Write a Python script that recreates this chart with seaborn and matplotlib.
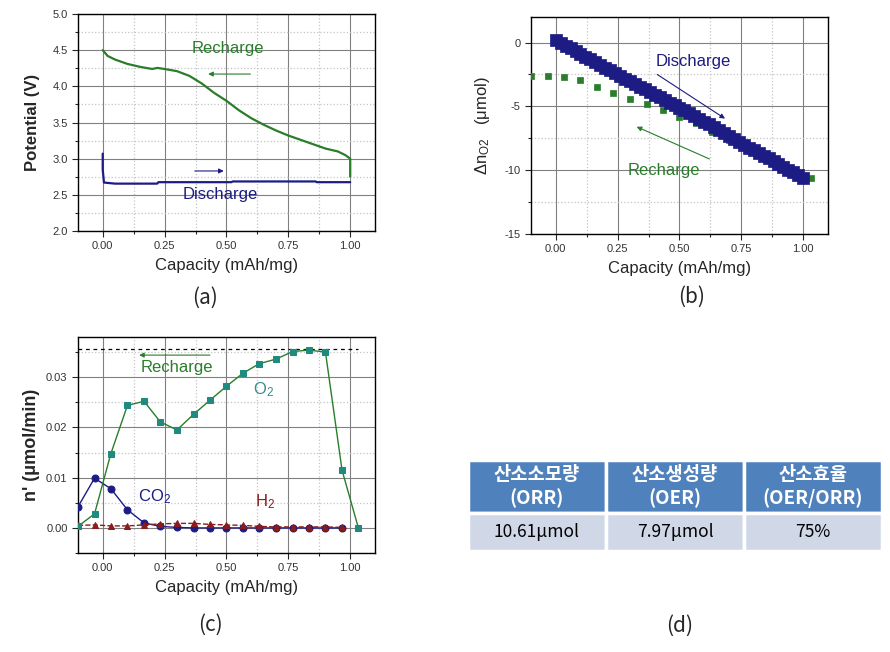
import numpy as np
import matplotlib
matplotlib.use('Agg')
import matplotlib.pyplot as plt
from matplotlib.ticker import MultipleLocator, FormatStrFormatter
import seaborn as sns

# ---- (a) potential profile
chg_cap = [0.0, 0.02, 0.05, 0.10, 0.15, 0.20, 0.22, 0.25, 0.30, 0.35, 0.40, 0.45, 0.50,
           0.55, 0.60, 0.65, 0.70, 0.75, 0.80, 0.85, 0.90, 0.95, 0.98, 1.00, 1.00]
chg_pot = [4.50, 4.42, 4.37, 4.31, 4.27, 4.24, 4.255, 4.24, 4.21, 4.145, 4.04, 3.91, 3.80,
           3.67, 3.56, 3.47, 3.39, 3.32, 3.26, 3.20, 3.14, 3.10, 3.05, 3.00, 2.75]
dis_cap = [0.0, 0.0, 0.005, 0.05, 0.22, 0.225, 0.52, 0.525, 0.86, 0.865, 1.00]
dis_pot = [3.07, 2.85, 2.67, 2.655, 2.655, 2.675, 2.675, 2.685, 2.685, 2.675, 2.675]

# ---- (b) cumulative O2
dis_o2_cap = [0.00, 0.02, 0.04, 0.06, 0.08, 0.10, 0.12, 0.14, 0.16, 0.18, 0.20, 0.22, 0.24,
              0.26, 0.28, 0.30, 0.32, 0.34, 0.36, 0.38, 0.40, 0.42, 0.44, 0.46, 0.48, 0.50,
              0.52, 0.54, 0.56, 0.58, 0.60, 0.62, 0.64, 0.66, 0.68, 0.70, 0.72, 0.74, 0.76,
              0.78, 0.80, 0.82, 0.84, 0.86, 0.88, 0.90, 0.92, 0.94, 0.96, 0.98, 1.00]
dis_o2 = [0.20, -0.02, -0.24, -0.45, -0.66, -0.88, -1.10, -1.32, -1.54, -1.75, -1.96, -2.18,
          -2.40, -2.61, -2.82, -3.03, -3.24, -3.45, -3.66, -3.87, -4.08, -4.29, -4.50, -4.70,
          -4.90, -5.10, -5.32, -5.54, -5.76, -5.98, -6.20, -6.42, -6.64, -6.86, -7.08, -7.32,
          -7.55, -7.78, -8.01, -8.23, -8.45, -8.66, -8.87, -9.08, -9.30, -9.52, -9.74, -9.96,
          -10.17, -10.38, -10.60]
rc_cap = [-0.100, -0.033, 0.033, 0.100, 0.167, 0.233, 0.300, 0.367, 0.433, 0.500, 0.567,
          0.633, 0.700, 0.767, 0.833, 0.900, 0.967, 1.033]
rc_o2 = [-2.60, -2.62, -2.70, -2.97, -3.50, -3.97, -4.40, -4.80, -5.25, -5.80, -6.32,
         -6.98, -7.64, -8.10, -8.80, -9.50, -10.20, -10.63]

# ---- (c) gas evolution rate
o2_rate = [0.0003, 0.0028, 0.0148, 0.0244, 0.0252, 0.0211, 0.0195, 0.0226, 0.0254, 0.0282,
           0.0308, 0.0327, 0.0336, 0.0351, 0.0354, 0.0350, 0.0115, 0.0000]
co2_rate = [0.0042, 0.0099, 0.0078, 0.0036, 0.0010, 0.0003, 0.0001, 0.0000, 0.0000, 0.0000,
            0.0000, 0.0000, 0.0000, 0.0000, 0.0000, 0.0000, 0.0000]
h2_rate = [0.0005, 0.0006, 0.0004, 0.0004, 0.0006, 0.0008, 0.0009, 0.0009, 0.0007, 0.0006,
           0.0005, 0.0003, 0.0002, 0.0002, 0.0002, 0.0002, 0.0001]
o2_max = 0.0357

# ---- (d) table
tbl_header = ['산소소모량\n(ORR)', '산소생성량\n(OER)', '산소효율\n(OER/ORR)']
tbl_values = ['10.61μmol', '7.97μmol', '75%']

sns.set_style('ticks')
plt.rcParams['font.family'] = ['Liberation Sans', 'DejaVu Sans']
plt.rcParams['mathtext.fontset'] = 'custom'
plt.rcParams['mathtext.rm'] = 'Liberation Sans'
plt.rcParams['mathtext.it'] = 'Liberation Sans:italic'

GREEN = '#2a7d2a'
NAVY = '#1c1c84'
TEAL = '#1f8a7e'
RED = '#8a1c1c'
KR = ['Noto Sans CJK KR', 'DejaVu Sans']

fig = plt.figure(figsize=(8.9, 6.52), dpi=100)
ax_a = fig.add_axes([0.0876, 0.6457, 0.3337, 0.3328])
ax_b = fig.add_axes([0.5966, 0.6411, 0.3337, 0.3328])
ax_c = fig.add_axes([0.0876, 0.1518, 0.3337, 0.3313])
ax_d = fig.add_axes([0.5258, 0.1549, 0.4652, 0.1396])


def style_axis(ax, ymajor, yfmt):
    ax.set_xlim(-0.1, 1.1)
    ax.xaxis.set_major_locator(MultipleLocator(0.25))
    ax.xaxis.set_minor_locator(MultipleLocator(0.125))
    ax.xaxis.set_major_formatter(FormatStrFormatter('%.2f'))
    ax.yaxis.set_major_locator(MultipleLocator(ymajor))
    ax.yaxis.set_minor_locator(MultipleLocator(ymajor / 2))
    ax.yaxis.set_major_formatter(FormatStrFormatter(yfmt))
    ax.grid(which='major', color='#808080', lw=0.8)
    ax.grid(which='minor', color='#c4c4c4', ls=':', lw=0.9)
    ax.set_axisbelow(True)
    ax.tick_params(which='major', direction='out', length=4, width=0.8,
                   labelsize=8, labelcolor='#333333', top=False, right=False)
    ax.tick_params(which='minor', direction='out', length=2.5, width=0.8,
                   top=False, right=False)
    for s in ax.spines.values():
        s.set_visible(True)
        s.set_color('black')
        s.set_linewidth(1)
    ax.set_xlabel('Capacity (mAh/mg)', fontsize=12, labelpad=5)


def arrow(ax, x0, y0, x1, y1, color):
    ax.annotate('', xy=(x1, y1), xytext=(x0, y0),
                arrowprops=dict(arrowstyle='-|>', color=color, lw=0.8,
                                mutation_scale=7, shrinkA=0, shrinkB=0))


# (a)
sns.lineplot(x=chg_cap, y=chg_pot, sort=False, estimator=None, color=GREEN, lw=1.6, ax=ax_a)
sns.lineplot(x=dis_cap, y=dis_pot, sort=False, estimator=None, color=NAVY, lw=1.6, ax=ax_a)
style_axis(ax_a, 0.5, '%.1f')
ax_a.set_ylim(2.0, 5.0)
ax_a.set_ylabel('Potential (V)', fontsize=12, fontweight='bold', labelpad=9)
ax_a.text(0.507, 4.52, 'Recharge', color=GREEN, fontsize=12, ha='center', va='center')
ax_a.text(0.474, 2.50, 'Discharge', color=NAVY, fontsize=12, ha='center', va='center')
arrow(ax_a, 0.597, 4.17, 0.426, 4.17, GREEN)
arrow(ax_a, 0.372, 2.83, 0.489, 2.83, NAVY)

# (b)
sns.scatterplot(x=rc_cap, y=rc_o2, marker='s', s=14, color=GREEN, edgecolor=GREEN,
                linewidth=0.5, ax=ax_b, zorder=3)
sns.scatterplot(x=dis_o2_cap, y=dis_o2, marker='s', s=70, color=NAVY, edgecolor=NAVY,
                linewidth=0.5, ax=ax_b, zorder=4)
style_axis(ax_b, 5, '%d')
ax_b.set_ylim(-15, 2)
ax_b.set_ylabel('Δn$_{\\mathrm{O2}}$   (μmol)', fontsize=12, labelpad=9)
ax_b.text(0.555, -1.46, 'Discharge', color=NAVY, fontsize=12, ha='center', va='center')
ax_b.text(0.435, -10.05, 'Recharge', color=GREEN, fontsize=12, ha='center', va='center')
arrow(ax_b, 0.41, -2.5, 0.684, -5.96, NAVY)
arrow(ax_b, 0.621, -9.12, 0.327, -6.6, GREEN)

# (c)
ax_c.plot([-0.1, 1.033], [o2_max, o2_max], color='black', ls=(0, (3, 3)), lw=0.9, zorder=2)
sns.lineplot(x=rc_cap[:-1], y=co2_rate, color=NAVY, lw=1, marker='o', markersize=5,
             markeredgecolor=NAVY, ax=ax_c, zorder=3)
sns.lineplot(x=rc_cap[:-1], y=h2_rate, color=RED, lw=1, ls='--', marker='^', markersize=5,
             markeredgecolor=RED, ax=ax_c, zorder=4)
sns.lineplot(x=rc_cap, y=o2_rate, color=GREEN, lw=1, marker='s', markersize=5,
             markerfacecolor=TEAL, markeredgecolor=TEAL, ax=ax_c, zorder=5)
style_axis(ax_c, 0.01, '%.2f')
ax_c.set_ylim(-0.005, 0.038)
ax_c.set_ylabel("n' (μmol/min)", fontsize=13, fontweight='bold', labelpad=4)
ax_c.text(0.298, 0.0319, 'Recharge', color=GREEN, fontsize=12, ha='center', va='center')
ax_c.text(0.649, 0.0276, 'O$_2$', color='#3a8c8c', fontsize=12, ha='center', va='center')
ax_c.text(0.21, 0.0062, 'CO$_2$', color=NAVY, fontsize=12, ha='center', va='center')
ax_c.text(0.656, 0.0052, 'H$_2$', color=RED, fontsize=12, ha='center', va='center')
arrow(ax_c, 0.433, 0.0344, 0.147, 0.0344, GREEN)

# (d)
ax_d.axis('off')
tb = ax_d.table(cellText=[tbl_header, tbl_values], cellLoc='center', bbox=[0, 0, 1, 1])
tb.auto_set_font_size(False)
for (r, c), cell in tb.get_celld().items():
    cell.set_edgecolor('white')
    cell.set_linewidth(2.5)
    cell.set_height(0.57 if r == 0 else 0.40)
    txt = cell.get_text()
    txt.set_family(KR)
    if r == 0:
        cell.set_facecolor('#4f81bd')
        txt.set_color('white')
        txt.set_fontweight('bold')
        txt.set_fontsize(13.5)
        txt.set_linespacing(1.25)
    else:
        cell.set_facecolor('#d0d8e8')
        txt.set_color('black')
        txt.set_fontsize(12.5)

for x, y, t in [(0.2303, 0.543, '(a)'), (0.7775, 0.5445, '(b)'),
                (0.236, 0.0414, '(c)'), (0.764, 0.040, '(d)')]:
    fig.text(x, y, t, fontsize=15, ha='center', va='center', family=KR)

fig.savefig('out.png', dpi=100)
